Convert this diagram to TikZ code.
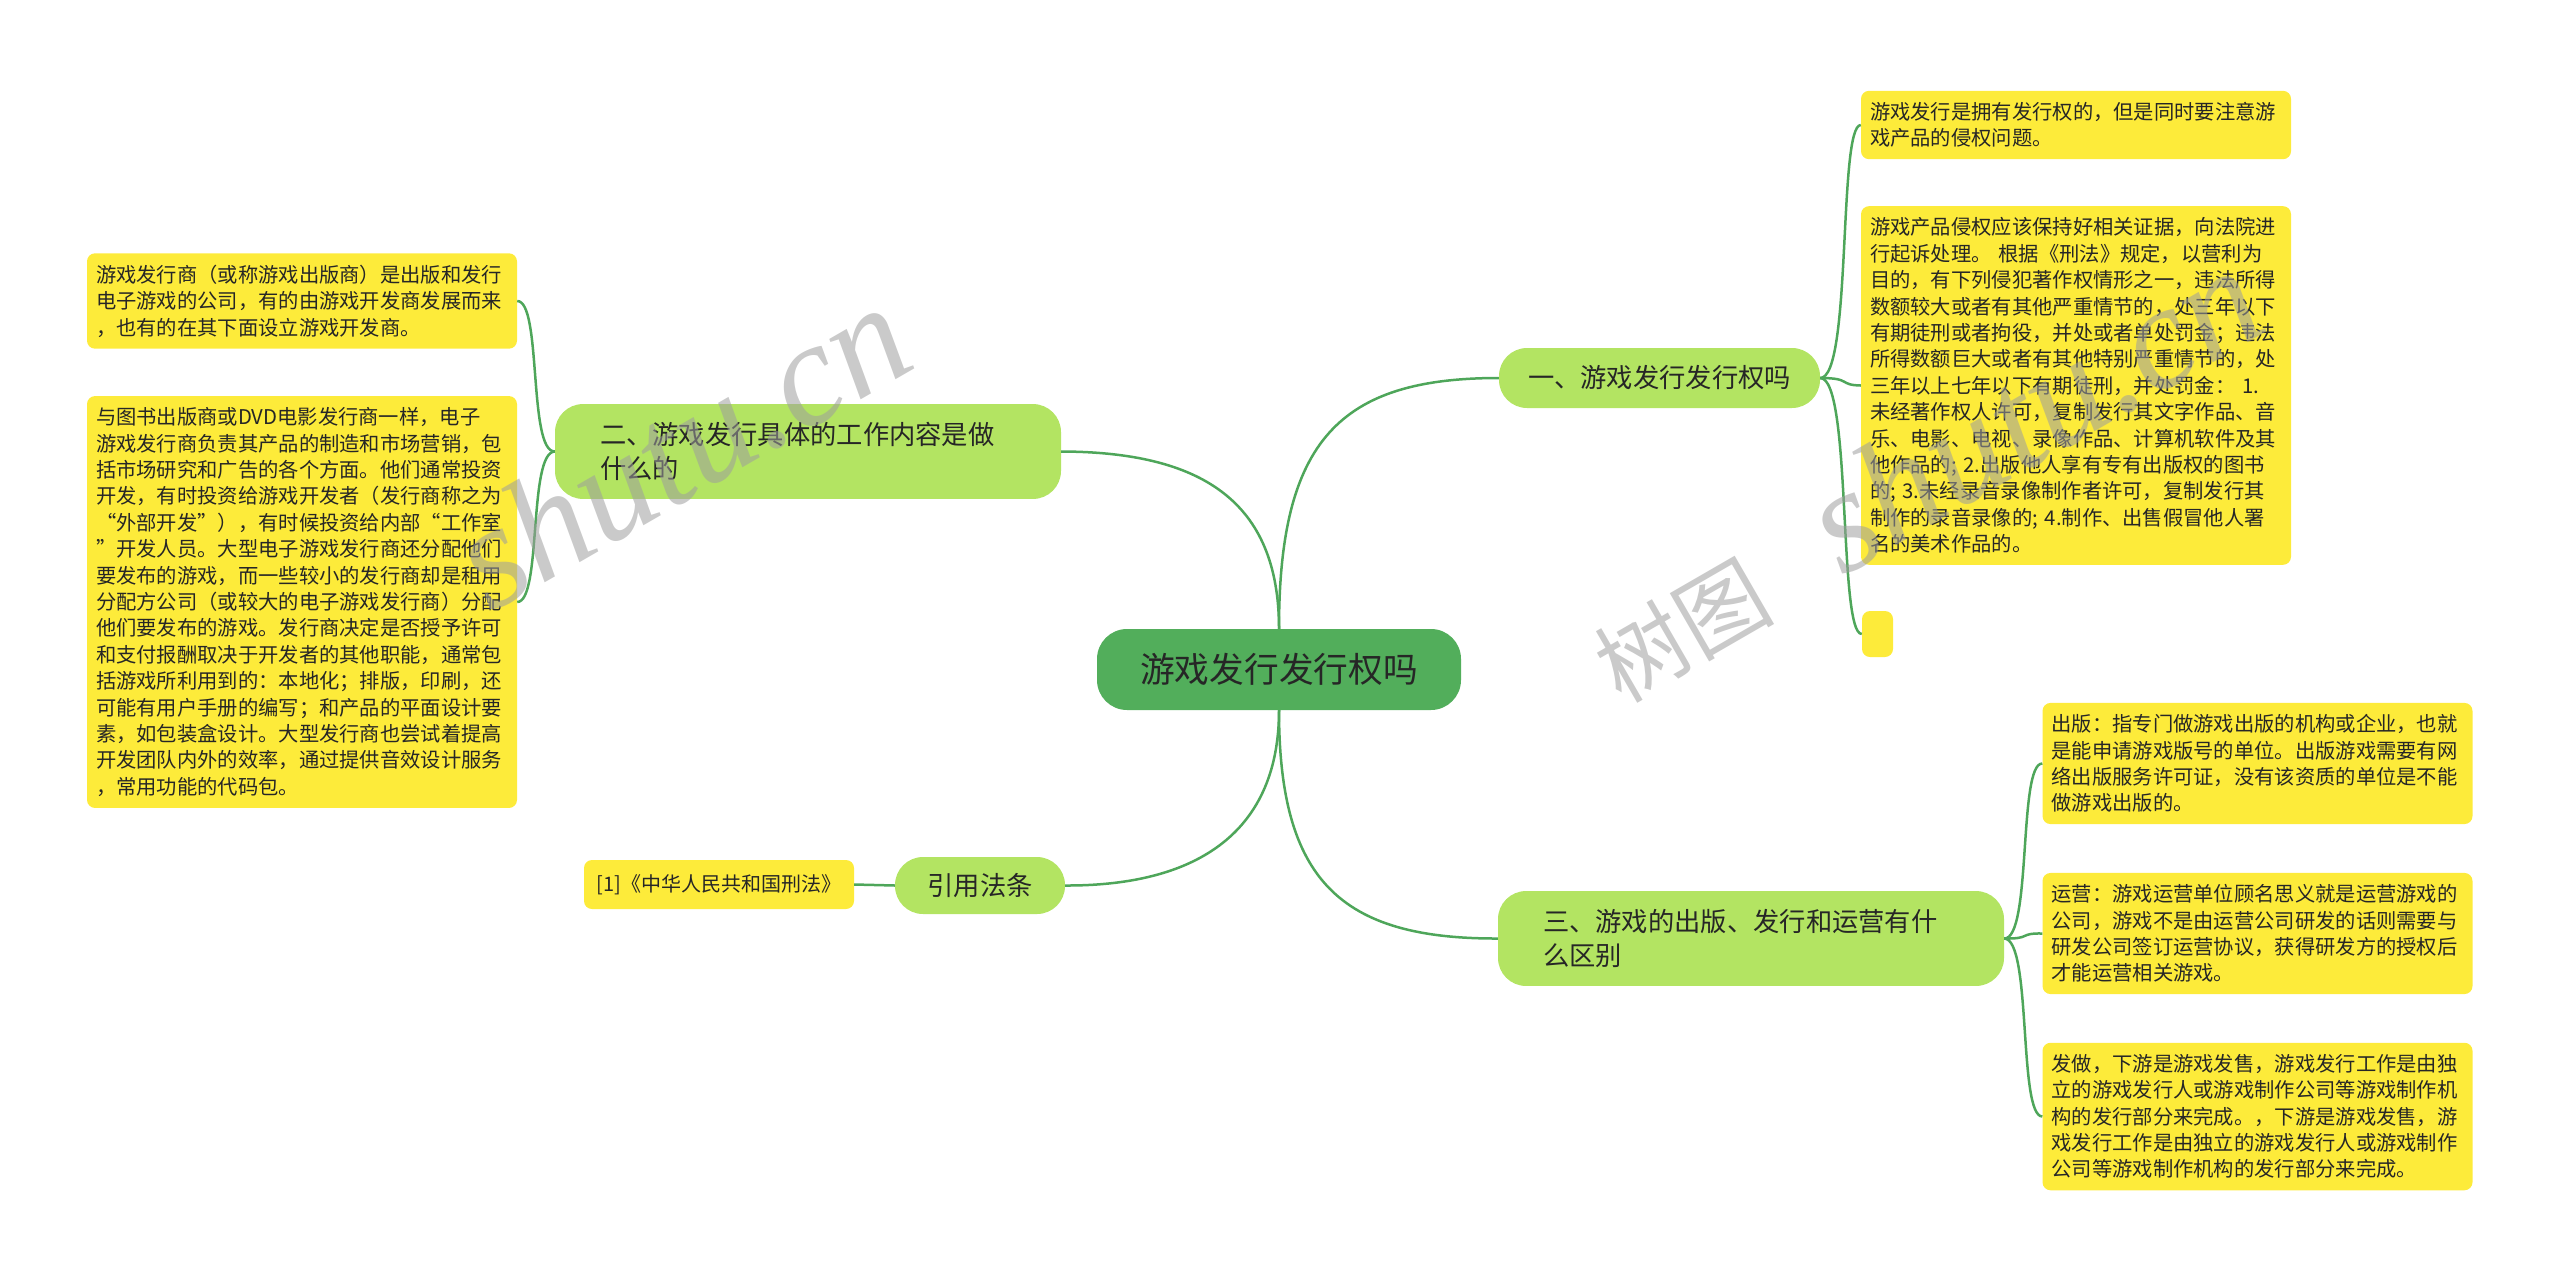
\documentclass[tikz,border=0pt]{standalone}
\usepackage{fontspec}
\setmainfont{Noto Sans CJK SC}
\newfontfamily\wmlatin{Liberation Serif}
\definecolor{rootgreen}{HTML}{52AE5B}
\definecolor{branchgreen}{HTML}{B3E462}
\definecolor{leafyellow}{HTML}{FDEB3A}
\definecolor{linkgreen}{HTML}{4EA65A}
\definecolor{wmgray}{HTML}{9E9E9E}
\newcommand{\wmlogo}{{\fontsize{90}{90}\selectfont 树图}\hspace{75pt}}
\newcommand{\wmsite}{{\wmlatin\itshape\fontsize{148}{148}\selectfont shutu.cn}}
\tikzset{
  root_node/.style={rounded corners=30pt, fill=rootgreen, text=black!85, inner sep=0pt,
    font=\fontsize{34.7}{40}\selectfont},
  branch_node/.style={rounded corners=28pt, fill=branchgreen, text=black!85, inner sep=0pt,
    font=\fontsize{26.3}{34.5}\selectfont},
  branch_wide/.style={branch_node, align=left, text width=416pt, inner xsep=45pt, inner ysep=18pt},
  leaf_box/.style={rounded corners=8pt, fill=leafyellow, text=black!85, inner sep=0pt},
  leaf_node/.style={leaf_box, font=\fontsize{20.3}{26.4}\selectfont, align=left,
    text width=412pt, inner xsep=9pt, inner ysep=11.5pt},
  link/.style={draw=linkgreen, line width=2.5pt},
  watermark/.style={text=wmgray, opacity=0.55, rotate=30, anchor=base west, inner sep=0pt}
}
\begin{document}
\begin{tikzpicture}[x=1pt, y=-1pt]
    \useasboundingbox (0,0) rectangle (2560,1280);
    % centre and main branches
    \node[root_node, minimum width=364pt, minimum height=81pt] (root) at (1279,669.5) {游戏发行发行权吗};
    \node[branch_node, minimum width=321pt, minimum height=60pt] (b1) at (1659.5,378) {一、游戏发行发行权吗};
    \node[branch_wide] (b2) at (808,451.5) {二、游戏发行具体的工作内容是做\\什么的};
    \node[branch_wide] (b3) at (1751,938.5) {三、游戏的出版、发行和运营有什\\么区别};
    \node[branch_node, minimum width=170pt, minimum height=57pt] (b4) at (980,885.5) {引用法条};
    % leaves of branch one
    \node[leaf_node] (r1) at (2076,125) {游戏发行是拥有发行权的，但是同时要注意游\\
戏产品的侵权问题。};
    \node[leaf_node] (r2) at (2076,385.5) {游戏产品侵权应该保持好相关证据，向法院进\\
行起诉处理。 根据《刑法》规定，以营利为\\
目的，有下列侵犯著作权情形之一，违法所得\\
数额较大或者有其他严重情节的，处三年以下\\
有期徒刑或者拘役，并处或者单处罚金；违法\\
所得数额巨大或者有其他特别严重情节的，处\\
三年以上七年以下有期徒刑，并处罚金： 1.\\
未经著作权人许可，复制发行其文字作品、音\\
乐、电影、电视、录像作品、计算机软件及其\\
他作品的; 2.出版他人享有专有出版权的图书\\
的; 3.未经录音录像制作者许可，复制发行其\\
制作的录音录像的; 4.制作、出售假冒他人署\\
名的美术作品的。};
    \node[leaf_box, minimum width=31pt, minimum height=46pt] (r3) at (1877.5,634) {};
    % leaves of branch three
    \node[leaf_node] (s1) at (2257.5,763.5) {出版：指专门做游戏出版的机构或企业，也就\\
是能申请游戏版号的单位。出版游戏需要有网\\
络出版服务许可证，没有该资质的单位是不能\\
做游戏出版的。};
    \node[leaf_node] (s2) at (2257.5,933.5) {运营：游戏运营单位顾名思义就是运营游戏的\\
公司，游戏不是由运营公司研发的话则需要与\\
研发公司签订运营协议，获得研发方的授权后\\
才能运营相关游戏。};
    \node[leaf_node] (s3) at (2257.5,1116.5) {发做，下游是游戏发售，游戏发行工作是由独\\
立的游戏发行人或游戏制作公司等游戏制作机\\
构的发行部分来完成。，下游是游戏发售，游\\
戏发行工作是由独立的游戏发行人或游戏制作\\
公司等游戏制作机构的发行部分来完成。};
    % leaves of branch two
    \node[leaf_node] (l1) at (302,301) {游戏发行商（或称游戏出版商）是出版和发行\\
电子游戏的公司，有的由游戏开发商发展而来\\
，也有的在其下面设立游戏开发商。};
    \node[leaf_node] (l2) at (302,602) {与图书出版商或DVD电影发行商一样，电子\\
游戏发行商负责其产品的制造和市场营销，包\\
括市场研究和广告的各个方面。他们通常投资\\
开发，有时投资给游戏开发者（发行商称之为\\
“外部开发”），有时候投资给内部“工作室\\
”开发人员。大型电子游戏发行商还分配他们\\
要发布的游戏，而一些较小的发行商却是租用\\
分配方公司（或较大的电子游戏发行商）分配\\
他们要发布的游戏。发行商决定是否授予许可\\
和支付报酬取决于开发者的其他职能，通常包\\
括游戏所利用到的：本地化；排版，印刷，还\\
可能有用户手册的编写；和产品的平面设计要\\
素，如包装盒设计。大型发行商也尝试着提高\\
开发团队内外的效率，通过提供音效设计服务\\
，常用功能的代码包。};
    % leaf of branch four
    \node[leaf_box, font=\fontsize{20}{24}\selectfont, minimum width=270pt, minimum height=49pt] (cite) at (719,884.5) {[1]《中华人民共和国刑法》};
    % connectors
    \draw[link] (root.north) .. controls (1279,440) and (1340,378) .. (b1.west);
    \draw[link] (root.north) .. controls (1279,500) and (1200,452) .. (b2.east);
    \draw[link] (root.south) .. controls (1279,830) and (1200,886) .. (b4.east);
    \draw[link] (root.south) .. controls (1279,880) and (1340,939) .. (b3.west);
    \draw[link] (b1.east) .. controls (1852,378) and (1838,125) .. (r1.west);
    \draw[link] (b1.east) .. controls (1852,378) and (1838,385) .. (r2.west);
    \draw[link] (b1.east) .. controls (1852,378) and (1838,634) .. (r3.west);
    \draw[link] (b3.east) .. controls (2032,939) and (2018,763) .. (s1.west);
    \draw[link] (b3.east) .. controls (2032,939) and (2018,933) .. (s2.west);
    \draw[link] (b3.east) .. controls (2032,939) and (2018,1116) .. (s3.west);
    \draw[link] (b2.west) .. controls (528,452) and (542,301) .. (l1.east);
    \draw[link] (b2.west) .. controls (528,452) and (542,602) .. (l2.east);
    \draw[link] (b4.west) -- (cite.east);
    % watermarks
    \node[watermark] (wm1) at (490,614) {\wmsite};
    \node[watermark] (wm2) at (1621,705) {\wmlogo\wmsite};
\end{tikzpicture}
\end{document}
